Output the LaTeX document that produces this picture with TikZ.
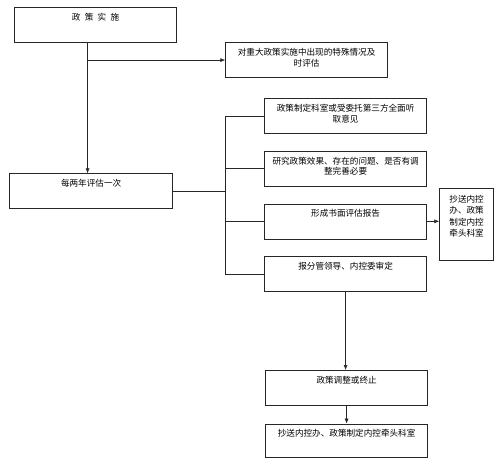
\documentclass[tikz,border=0pt]{standalone}
\usepackage{fontspec}
\setmainfont{Noto Sans CJK SC}
\usetikzlibrary{arrows.meta,positioning}
\tikzset{
  box/.style={draw=black!85,line width=0.6pt,inner xsep=2pt,inner ysep=0pt,
    minimum width=162pt,text width=156pt,align=center,
    font=\fontsize{8.6}{10.6}\selectfont,text height=13pt,text depth=22pt},
  sidebox/.style={box,minimum width=54pt,text width=40pt,
    font=\fontsize{8.6}{11.2}\selectfont,text height=14pt,text depth=58pt},
  link/.style={draw=black!85,line width=0.6pt},
  flow/.style={link,-{Latex[length=5pt,width=4pt]}},
}
\begin{document}
\begin{tikzpicture}[x=1pt,y=-1pt,node distance=17pt]
  \useasboundingbox (0,0) rectangle (500,463);
  % top of the chart
  \node[box,anchor=north west](impl) at (14.3,7.3){政\enspace 策\enspace 实\enspace 施};
  \node[box,anchor=north west](special) at (225.3,42.3){对重大政策实施中出现的特殊情况及\\时评估};
  \node[box,anchor=north west,minimum width=163pt](biennial) at (9.3,173.3){每两年评估一次};
  % the evaluation steps
  \node[box,anchor=north west](listen) at (264.3,98.3){政策制定科室或受委托第三方全面听\\取意见};
  \node[box,below=of listen](study){研究政策效果、存在的问题、是否有调\\整完善必要};
  \node[box,below=of study](report){形成书面评估报告};
  \node[box,below=of report](approve){报分管领导、内控委审定};
  \node[sidebox,anchor=north west](cc) at (439.3,188.3){抄送内控\\办、政策\\制定内控\\牵头科室};
  \node[box,anchor=north west](adjust) at (265.3,370){政策调整或终止};
  \node[box,below=18pt of adjust,text depth=20pt](final){抄送内控办、政策制定内控牵头科室};
  % connectors
  \coordinate (split) at ([xshift=-8pt]impl.south);
  \coordinate (trunk) at (225.3,189.3);
  \draw[flow](split)--(split |- biennial.north);
  \draw[flow](split |- special.west)--(special.west);
  \draw[link](biennial.east)--(biennial.east -| trunk);
  \draw[link](trunk |- listen.west)--(trunk |- approve.west);
  \foreach \b in {listen,study,report,approve}
    \draw[link](trunk |- \b.west)--(\b.west);
  \draw[flow](report.east)--(report.east -| cc.west);
  \draw[flow](approve.south)--(approve.south |- adjust.north);
  \draw[flow](adjust.south)--(final.north);
\end{tikzpicture}
\end{document}
